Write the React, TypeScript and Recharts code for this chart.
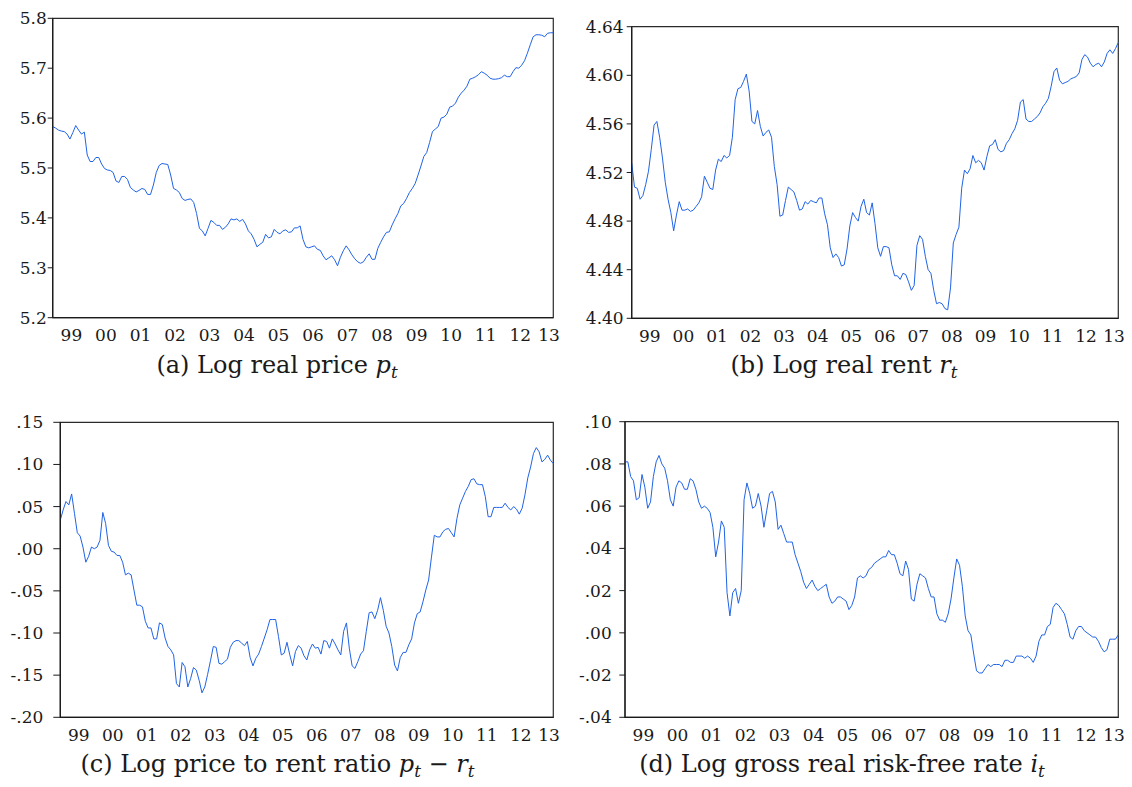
import React from "react";
import { LineChart, Line, XAxis, YAxis, ReferenceArea } from "recharts";

// monthly observations, Dec 1998 .. Jun 2013
const yearLabels = ["99", "00", "01", "02", "03", "04", "05", "06", "07", "08", "09", "10", "11", "12", "13"];

const logPrice = [
  5.583, 5.580, 5.576, 5.574, 5.573, 5.568, 5.558, 5.571, 5.585, 5.576,
  5.568, 5.572, 5.526, 5.513, 5.513, 5.521, 5.521, 5.508, 5.499, 5.496,
  5.495, 5.491, 5.474, 5.471, 5.483, 5.483, 5.477, 5.461, 5.456, 5.452,
  5.455, 5.459, 5.457, 5.447, 5.447, 5.466, 5.491, 5.505, 5.509, 5.508,
  5.507, 5.486, 5.459, 5.456, 5.451, 5.439, 5.435, 5.437, 5.438, 5.431,
  5.409, 5.379, 5.374, 5.364, 5.379, 5.395, 5.391, 5.385, 5.385, 5.377,
  5.381, 5.388, 5.398, 5.396, 5.398, 5.393, 5.397, 5.388, 5.374, 5.368,
  5.357, 5.342, 5.347, 5.351, 5.367, 5.360, 5.362, 5.377, 5.371, 5.368,
  5.374, 5.376, 5.371, 5.372, 5.380, 5.380, 5.384, 5.357, 5.342, 5.340,
  5.342, 5.344, 5.337, 5.335, 5.324, 5.316, 5.320, 5.324, 5.316, 5.304,
  5.321, 5.334, 5.344, 5.336, 5.326, 5.318, 5.312, 5.309, 5.312, 5.321,
  5.328, 5.317, 5.317, 5.339, 5.351, 5.362, 5.371, 5.372, 5.386, 5.398,
  5.409, 5.424, 5.429, 5.439, 5.451, 5.459, 5.469, 5.486, 5.504, 5.523,
  5.531, 5.551, 5.573, 5.578, 5.583, 5.600, 5.602, 5.608, 5.622, 5.624,
  5.630, 5.642, 5.650, 5.656, 5.664, 5.678, 5.680, 5.683, 5.687, 5.693,
  5.690, 5.686, 5.680, 5.678, 5.678, 5.679, 5.681, 5.686, 5.683, 5.683,
  5.693, 5.701, 5.700, 5.706, 5.715, 5.730, 5.747, 5.763, 5.767, 5.767,
  5.766, 5.763, 5.770, 5.771, 5.771,
];

const logRent = [
  4.528, 4.508, 4.507, 4.498, 4.501, 4.510, 4.521, 4.539, 4.559, 4.562,
  4.549, 4.532, 4.512, 4.498, 4.487, 4.472, 4.485, 4.496, 4.489, 4.489,
  4.490, 4.488, 4.489, 4.492, 4.495, 4.500, 4.517, 4.512, 4.507, 4.506,
  4.522, 4.531, 4.529, 4.534, 4.532, 4.534, 4.549, 4.580, 4.589, 4.590,
  4.595, 4.601, 4.587, 4.562, 4.560, 4.571, 4.558, 4.550, 4.553, 4.555,
  4.549, 4.525, 4.510, 4.484, 4.485, 4.497, 4.508, 4.506, 4.504, 4.497,
  4.489, 4.490, 4.496, 4.494, 4.497, 4.496, 4.495, 4.499, 4.499, 4.486,
  4.477, 4.458, 4.450, 4.453, 4.450, 4.443, 4.444, 4.457, 4.476, 4.487,
  4.483, 4.480, 4.492, 4.498, 4.487, 4.485, 4.495, 4.478, 4.458, 4.451,
  4.459, 4.459, 4.458, 4.444, 4.435, 4.435, 4.432, 4.437, 4.436, 4.430,
  4.423, 4.427, 4.460, 4.468, 4.465, 4.451, 4.440, 4.437, 4.423, 4.412,
  4.413, 4.412, 4.408, 4.407, 4.425, 4.462, 4.469, 4.475, 4.507, 4.522,
  4.519, 4.523, 4.534, 4.528, 4.530, 4.528, 4.522, 4.533, 4.542, 4.543,
  4.547, 4.539, 4.537, 4.538, 4.544, 4.547, 4.552, 4.556, 4.563, 4.578,
  4.580, 4.564, 4.562, 4.562, 4.564, 4.566, 4.569, 4.574, 4.577, 4.581,
  4.591, 4.603, 4.606, 4.596, 4.593, 4.594, 4.595, 4.597, 4.598, 4.599,
  4.602, 4.613, 4.617, 4.615, 4.610, 4.607, 4.609, 4.610, 4.607, 4.611,
  4.618, 4.621, 4.618, 4.622, 4.627,
];

const priceRent = [
  0.034, 0.046, 0.056, 0.052, 0.065, 0.042, 0.019, 0.015, 0.002, -0.016,
  -0.009, 0.002, 0.000, 0.002, 0.010, 0.043, 0.030, 0.004, -0.003, -0.004,
  -0.008, -0.008, -0.016, -0.031, -0.029, -0.031, -0.049, -0.067, -0.067, -0.069,
  -0.086, -0.094, -0.094, -0.107, -0.107, -0.088, -0.090, -0.106, -0.116, -0.120,
  -0.126, -0.160, -0.164, -0.135, -0.140, -0.164, -0.154, -0.141, -0.144, -0.156,
  -0.171, -0.164, -0.149, -0.133, -0.116, -0.117, -0.136, -0.137, -0.134, -0.131,
  -0.117, -0.111, -0.109, -0.109, -0.112, -0.115, -0.110, -0.129, -0.139, -0.130,
  -0.125, -0.116, -0.106, -0.096, -0.084, -0.084, -0.084, -0.104, -0.126, -0.124,
  -0.111, -0.126, -0.139, -0.122, -0.115, -0.118, -0.127, -0.132, -0.120, -0.113,
  -0.118, -0.117, -0.125, -0.109, -0.110, -0.118, -0.107, -0.113, -0.120, -0.126,
  -0.098, -0.088, -0.118, -0.139, -0.142, -0.134, -0.125, -0.121, -0.098, -0.076,
  -0.075, -0.083, -0.073, -0.058, -0.073, -0.092, -0.100, -0.116, -0.138, -0.145,
  -0.129, -0.123, -0.123, -0.114, -0.107, -0.088, -0.077, -0.075, -0.063, -0.049,
  -0.037, -0.010, 0.016, 0.014, 0.014, 0.020, 0.023, 0.024, 0.019, 0.014,
  0.036, 0.052, 0.060, 0.068, 0.074, 0.082, 0.083, 0.077, 0.076, 0.076,
  0.062, 0.038, 0.038, 0.049, 0.049, 0.049, 0.049, 0.054, 0.049, 0.046,
  0.050, 0.047, 0.041, 0.048, 0.064, 0.084, 0.097, 0.113, 0.120, 0.115,
  0.103, 0.106, 0.111, 0.105, 0.101,
];

const riskFree = [
  0.081, 0.081, 0.074, 0.072, 0.063, 0.064, 0.075, 0.069, 0.059, 0.062,
  0.074, 0.081, 0.084, 0.080, 0.078, 0.072, 0.063, 0.060, 0.069, 0.072,
  0.071, 0.068, 0.068, 0.073, 0.072, 0.068, 0.062, 0.059, 0.060, 0.059,
  0.057, 0.050, 0.036, 0.043, 0.053, 0.050, 0.019, 0.008, 0.019, 0.021,
  0.014, 0.020, 0.063, 0.071, 0.066, 0.059, 0.060, 0.066, 0.060, 0.050,
  0.058, 0.066, 0.067, 0.062, 0.049, 0.051, 0.047, 0.043, 0.043, 0.043,
  0.037, 0.033, 0.029, 0.024, 0.021, 0.023, 0.025, 0.022, 0.020, 0.021,
  0.022, 0.023, 0.017, 0.014, 0.015, 0.017, 0.017, 0.016, 0.015, 0.011,
  0.013, 0.017, 0.026, 0.027, 0.026, 0.027, 0.030, 0.031, 0.033, 0.034,
  0.035, 0.036, 0.036, 0.039, 0.037, 0.037, 0.033, 0.028, 0.027, 0.034,
  0.030, 0.016, 0.015, 0.023, 0.028, 0.027, 0.026, 0.021, 0.017, 0.017,
  0.009, 0.006, 0.006, 0.005, 0.009, 0.016, 0.026, 0.035, 0.032, 0.022,
  0.008, 0.001, -0.001, -0.010, -0.018, -0.019, -0.019, -0.017, -0.015, -0.016,
  -0.015, -0.015, -0.015, -0.016, -0.013, -0.013, -0.014, -0.014, -0.011, -0.011,
  -0.011, -0.012, -0.011, -0.012, -0.014, -0.011, -0.004, -0.001, -0.001, 0.003,
  0.004, 0.012, 0.014, 0.013, 0.011, 0.009, 0.004, -0.002, -0.003, 0.001,
  0.003, 0.003, 0.001, 0.000, -0.001, -0.002, -0.002, -0.004, -0.007, -0.009,
  -0.008, -0.003, -0.003, -0.003, -0.001,
];

const priceTicks = [5.2, 5.3, 5.4, 5.5, 5.6, 5.7, 5.8];
const rentTicks = [4.4, 4.44, 4.48, 4.52, 4.56, 4.6, 4.64];
const ratioTicks = [-0.2, -0.15, -0.1, -0.05, 0, 0.05, 0.1, 0.15];
const rateTicks = [-0.04, -0.02, 0, 0.02, 0.04, 0.06, 0.08, 0.1];

const last = logPrice.length - 1;
const quarterTicks = Array.from({ length: Math.floor(last / 3) + 1 }, (_, i) => i * 3);
const yearTicks = yearLabels.map((_, k) => Math.min(12 * k + 6.5, last - 1.5));

const FONT = "'DejaVu Serif', serif";
const INK = "#1a1a1a";
const BLUE = "#1f62e6";

const dec1 = (v: number) => v.toFixed(1);
const dec2 = (v: number) => v.toFixed(2);
const noLead = (v: number) => v.toFixed(2).replace("0.", ".");

type Frame = { l: number; r: number; t: number; b: number };

function Panel(props: {
  values: number[];
  ticks: number[];
  fmt: (v: number) => string;
  left: number;
  top: number;
  frame: Frame;
  yTick: number;
  yGap: number;
}) {
  const { values, ticks, fmt, left, top, frame, yTick, yGap } = props;
  const data = values.map((v, t) => ({ t, v }));
  const lo = ticks[0];
  const hi = ticks[ticks.length - 1];
  const width = frame.r - left + 14;
  const height = frame.b - top + 45;
  return (
    <div style={{ position: "absolute", left, top }}>
      <LineChart
        width={width}
        height={height}
        data={data}
        margin={{ top: frame.t - top, right: 14, bottom: 10, left: 0 }}
      >
        <XAxis
          xAxisId="q"
          dataKey="t"
          type="number"
          domain={[0, last]}
          ticks={quarterTicks}
          interval={0}
          tick={false}
          tickSize={5}
          height={5}
          axisLine={{ stroke: INK, strokeWidth: 1.2 }}
          tickLine={{ stroke: INK }}
        />
        <XAxis
          xAxisId="yr"
          dataKey="t"
          type="number"
          domain={[0, last]}
          ticks={yearTicks}
          interval={0}
          tickFormatter={(_v: number, i: number) => yearLabels[i]}
          axisLine={false}
          tickLine={false}
          tickSize={0}
          tickMargin={6.6}
          height={30}
          tick={{ fontFamily: FONT, fontSize: 17, fill: INK }}
        />
        <YAxis
          type="number"
          domain={[lo, hi]}
          ticks={ticks}
          interval={0}
          tickFormatter={fmt}
          width={frame.l - left}
          tickSize={yTick}
          tickMargin={yGap}
          axisLine={{ stroke: INK, strokeWidth: 1.2 }}
          tickLine={{ stroke: INK }}
          tick={{ fontFamily: FONT, fontSize: 17, fill: INK }}
        />
        <ReferenceArea
          xAxisId="q"
          x1={0}
          x2={last}
          y1={lo}
          y2={hi}
          fill="none"
          stroke="#2a2a2a"
          strokeWidth={1.2}
          ifOverflow="visible"
        />
        <Line
          xAxisId="q"
          type="linear"
          dataKey="v"
          stroke={BLUE}
          strokeWidth={1}
          dot={false}
          isAnimationActive={false}
        />
      </LineChart>
    </div>
  );
}

function Sym({ s }: { s: string }) {
  return (
    <span style={{ fontStyle: "italic" }}>
      {s}
      <span style={{ fontSize: "0.7em", position: "relative", top: "0.3em" }}>t</span>
    </span>
  );
}

function Caption(props: { left: number; top: number; width: number; children: React.ReactNode }) {
  return (
    <div
      style={{
        position: "absolute",
        left: props.left,
        top: props.top,
        width: props.width,
        textAlign: "center",
        fontFamily: FONT,
        fontSize: 24,
        lineHeight: "24px",
        color: INK,
        whiteSpace: "nowrap",
      }}
    >
      {props.children}
    </div>
  );
}

export default function App() {
  return (
    <div style={{ position: "absolute", left: 0, top: 0, width: 1132, height: 787, background: "#fff" }}>
      <Panel
        values={logPrice}
        ticks={priceTicks}
        fmt={dec1}
        left={0}
        top={0}
        frame={{ l: 52.7, r: 553.3, t: 18.3, b: 317.7 }}
        yTick={5}
        yGap={1}
      />
      <Panel
        values={logRent}
        ticks={rentTicks}
        fmt={dec2}
        left={570}
        top={0}
        frame={{ l: 631.7, r: 1118.3, t: 26.7, b: 318.3 }}
        yTick={5}
        yGap={3}
      />
      <Panel
        values={priceRent}
        ticks={ratioTicks}
        fmt={noLead}
        left={0}
        top={400}
        frame={{ l: 60.3, r: 553.3, t: 422.3, b: 717.3 }}
        yTick={7}
        yGap={10}
      />
      <Panel
        values={riskFree}
        ticks={rateTicks}
        fmt={noLead}
        left={570}
        top={400}
        frame={{ l: 625, r: 1118.3, t: 421.7, b: 717.3 }}
        yTick={5.7}
        yGap={7.6}
      />
      <Caption left={0} top={352.7} width={554}>
        (a) Log real price <Sym s="p" />
      </Caption>
      <Caption left={570} top={352.7} width={548}>
        (b) Log real rent <Sym s="r" />
      </Caption>
      <Caption left={0} top={751.7} width={555}>
        (c) Log price to rent ratio <Sym s="p" /> − <Sym s="r" />
      </Caption>
      <Caption left={570} top={751.7} width={544}>
        (d) Log gross real risk-free rate <Sym s="i" />
      </Caption>
    </div>
  );
}
